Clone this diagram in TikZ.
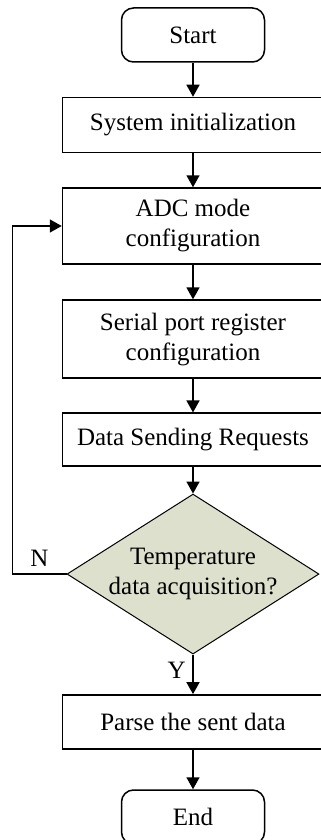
\documentclass[tikz,border=0pt]{standalone}
\usepackage{fontspec}
\setmainfont{Liberation Serif}
\usetikzlibrary{positioning,arrows.meta,shapes.geometric}
\definecolor{decfill}{RGB}{221,224,205}

\begin{document}
\begin{tikzpicture}[font=\fontsize{12.5}{15}\selectfont,>={Triangle[length=6pt,width=6.5pt]},
  line width=0.75pt,
  term/.style={draw,rounded corners=6pt,minimum width=71.5pt,minimum height=27pt,inner sep=2pt},
  proc/.style={draw,minimum width=130.5pt,inner sep=2pt,align=center},
  dec/.style={draw,diamond,fill=decfill,minimum width=126pt,minimum height=80pt,
    aspect=1.575,inner sep=-2pt,align=center,line width=0.5pt}]
  \useasboundingbox (0,0) rectangle (160.5pt,-420pt);
  \node[term] (start) at (96.5pt,-17.5pt) {Start};
  \node[proc,minimum height=27.5pt,below=17pt of start] (init) {System initialization};
  \node[proc,minimum height=38pt,below=17pt of init] (adc) {ADC mode\\configuration};
  \node[proc,minimum height=39pt,below=17.3pt of adc] (uart) {Serial port register\\configuration};
  \node[proc,minimum height=26.5pt,below=16.8pt of uart] (req) {Data Sending Requests};
  \node[dec,below=13.3pt of req] (acq) {Temperature\\data acquisition?};
  \node[proc,minimum height=27pt,below=19.8pt of acq] (parse) {Parse the sent data};
  \node[term,below=19.8pt of parse] (end) {End};
  \draw[->] (start) -- (init);
  \draw[->] (init) -- (adc);
  \draw[->] (adc) -- (uart);
  \draw[->] (uart) -- (req);
  \draw[->] (req) -- (acq);
  \draw[->] (acq) -- node[pos=0.4,left]{Y} (parse);
  \draw[->] (parse) -- (end);
  \draw[->] (acq.west) -- node[above]{N} ++(-27pt,0) |- (adc.west);
\end{tikzpicture}
\end{document}
